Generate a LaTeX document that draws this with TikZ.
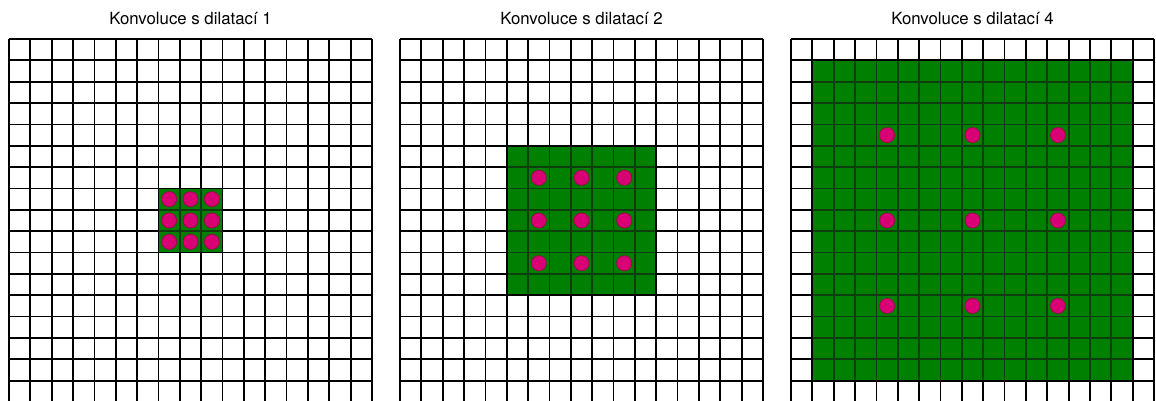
\documentclass[tikz,border=0pt]{standalone}
\usepackage{fontspec}
\setmainfont{TeX Gyre Heros}
\definecolor{fieldgreen}{RGB}{0,128,0}
\definecolor{gridgreen}{RGB}{14,62,14}
\definecolor{dotfill}{RGB}{216,0,116}
\definecolor{dotdraw}{RGB}{165,0,85}
\tikzset{
  gridline/.style={draw=black, line width=1.8pt},
  innerline/.style={draw=gridgreen, line width=1.8pt},
  field/.style={fill=fieldgreen},
  tap/.style={circle, fill=dotfill, draw=dotdraw, line width=0.8pt, minimum size=15pt, inner sep=0pt},
  title/.style={anchor=base, font=\fontsize{16.8}{19}\selectfont, inner sep=0pt}
}
\newcommand{\cellgrid}[1]{%
  \foreach \q in {0,...,17}{
    \draw[#1] (\q,0) -- (\q,17);
    \draw[#1] (0,\q) -- (17,\q);
  }%
}
\begin{document}
\begin{tikzpicture}[x=1pt,y=1pt]
\useasboundingbox (0,0) rectangle (1156,-401);
\fill[white] (0,0) rectangle (1156,-401);
\foreach \gx/\d [count=\k] in {9/1,400/2,791/4}{
  \node[title] (t\k) at (\gx+181.5,-25) {Konvoluce s dilatací \d};
  \begin{scope}[shift={(\gx,-39)}, x=21.353pt, y=-21.353pt]
    \pgfmathsetmacro{\lo}{9-2*\d}
    \pgfmathsetmacro{\hi}{8+2*\d}
    \cellgrid{gridline}
    \fill[field] (\lo,\lo) rectangle (\hi,\hi);
    \begin{scope}
      \clip (\lo,\lo) rectangle (\hi,\hi);
      \cellgrid{innerline}
    \end{scope}
    \draw[gridline] (\lo,\lo) rectangle (\hi,\hi);
    \foreach \i in {-1,0,1}{
      \foreach \j in {-1,0,1}{
        \node[tap] (p\k\i\j) at (8.5+\i*\d, 8.5+\j*\d) {};
      }
    }
  \end{scope}
}
\end{tikzpicture}
\end{document}
